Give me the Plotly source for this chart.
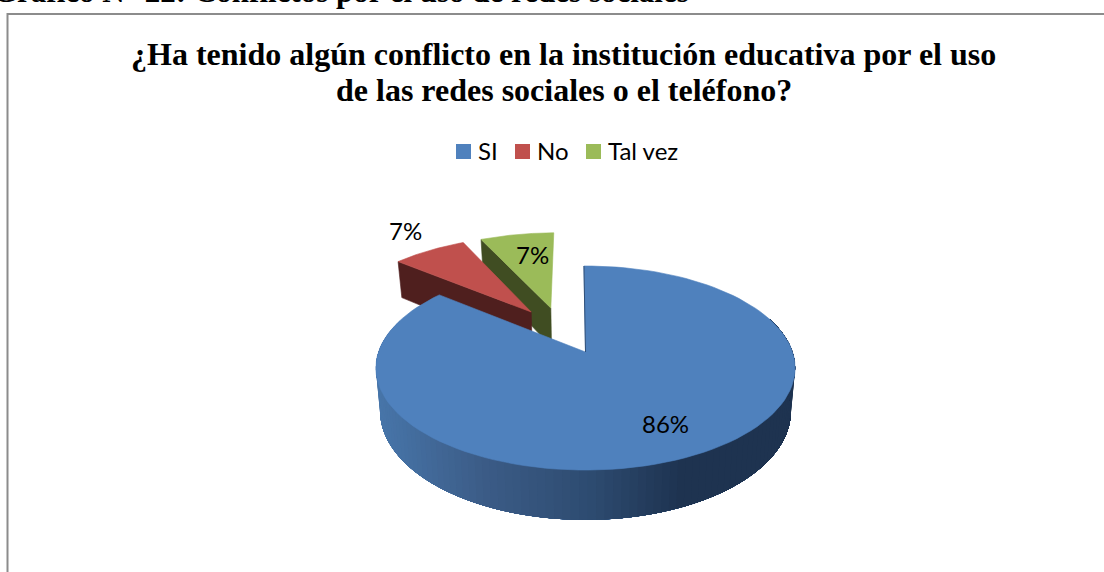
import numpy as np
import plotly.graph_objects as go

categories = ["SI", "No", "Tal vez"]
values = [86, 7, 7]
title_lines = ["¿Ha tenido algún conflicto en la institución educativa por el uso",
               "de las redes sociales o el teléfono?"]
caption_text = "Gráfico N° 22: Conflictos por el uso de redes sociales"
colors = ["#4f81bd", "#c0504d", "#9bbb59"]
wall_colors = [None, "#4f1f1e", "#404d22"]
explode = [(0, 0), (-0.28, 0.429), (-0.18, 0.475)]
label_xy = [(665, 423.5), (405, 230.5), (532, 254.5)]
legend_marker_x = [463.5, 522.5, 593.5]
legend_y = 151.5

X0, Y0, R, S, K, D, SHRINK, ROT = 585.5, 352, 207, 99.5, 0.157, 42, 0.98, -0.5


def proj(theta, r, off, bottom=False):
    t = np.radians(np.asarray(theta, dtype=float) + ROT)
    u = r * np.sin(t) + off[0]
    v = r * np.cos(t) + off[1]
    w = 1 + K * v
    x = R * u / w
    y = Y0 - S * v / w
    if bottom:
        x = x * SHRINK
        y = y + D / w
    return X0 + x, y


def poly(xs, ys, color, name, lw=0.6):
    return go.Scatter(x=list(xs), y=list(ys), mode="lines", fill="toself", fillcolor=color,
                      line=dict(color=color, width=lw), showlegend=False, hoverinfo="skip", name=name)


total = sum(values)
edges = np.cumsum([0] + values) / total * 360
fig = go.Figure()


def top_face(i):
    th = np.linspace(edges[i], edges[i + 1], 120)
    ax, ay = proj([0], 0, explode[i])
    ox, oy = proj(th, 1, explode[i])
    return poly(np.r_[ax, ox, ax], np.r_[ay, oy, ay], colors[i], categories[i])


def radial_wall(i):
    th = [edges[i]]
    ax, ay = proj([0], 0, explode[i])
    ox, oy = proj(th, 1, explode[i])
    bx, by = proj(th, 1, explode[i], True)
    cx, cy = proj([0], 0, explode[i], True)
    return poly([ax[0], ox[0], bx[0], cx[0], ax[0]], [ay[0], oy[0], by[0], cy[0], ay[0]],
                wall_colors[i], categories[i])


for i in (2, 1):
    fig.add_trace(radial_wall(i))
    fig.add_trace(top_face(i))

# blue rim, shaded from left to right; each band runs under the next one so no seams show
stops_x = [375, 480, 585, 680, 800]
stops_c = np.array([[72, 118, 170], [60, 92, 135], [46, 76, 113], [30, 51, 80], [30, 51, 80]], dtype=float)
angles = np.linspace(290, 70, 111)
for a in angles[:-1]:
    th = np.linspace(a, 70, 60)
    tx, ty = proj(th, 1, (0, 0))
    bx, by = proj(th, 1, (0, 0), True)
    rgb = [np.interp(tx[0], stops_x, stops_c[:, j]) for j in range(3)]
    c = "rgb(%d,%d,%d)" % tuple(rgb)
    fig.add_trace(poly(np.r_[tx, bx[::-1], tx[0]], np.r_[ty, by[::-1], ty[0]], c, "SI", lw=0))

fig.add_trace(top_face(0))
ax, ay = proj([0], 0, (0, 0))
ox, oy = proj([0], 1, (0, 0))
fig.add_trace(go.Scatter(x=[ax[0], ox[0]], y=[ay[0], oy[0]], mode="lines", showlegend=False,
                         line=dict(color="#2f4f78", width=1), hoverinfo="skip"))

# legend row
for c, col, mx in zip(categories, colors, legend_marker_x):
    fig.add_trace(go.Scatter(x=[mx], y=[legend_y], mode="markers", name=c, showlegend=False,
                             marker=dict(symbol="square", size=15, color=col, line=dict(width=0))))
    fig.add_annotation(x=mx + 12.5, y=legend_y - 1, text=c, showarrow=False, xanchor="left",
                       font=dict(family="Lato", size=24, color="black"))

for v, (x, y) in zip(values, label_xy):
    fig.add_annotation(x=x, y=y, text=f"{v}%", showarrow=False,
                       font=dict(family="Lato", size=24, color="black"))

fig.add_annotation(xref="x", yref="paper", x=691, y=1 - 11 / 572, xanchor="right", yanchor="bottom",
                   text="<b>" + caption_text + "</b>", showarrow=False,
                   font=dict(family="Liberation Serif", size=31, color="black"))
for line, y in zip(title_lines, (53.5, 89.5)):
    fig.add_annotation(x=563.5, y=y, text="<b>" + line + "</b>", showarrow=False, align="center",
                       font=dict(family="Liberation Serif", size=32, color="black"))

fig.add_shape(type="rect", x0=7.5, y0=14, x1=1120, y1=590, line=dict(color="#8c8c8c", width=2), layer="below")

fig.update_layout(
    width=1104, height=572, margin=dict(l=0, r=0, t=0, b=0),
    paper_bgcolor="white", plot_bgcolor="white", showlegend=False,
    xaxis=dict(range=[0, 1104], visible=False, fixedrange=True),
    yaxis=dict(range=[572, 0], visible=False, fixedrange=True),
)
fig.write_html("out.html", post_script="document.body.style.margin='0';",
               config=dict(displayModeBar=False))
